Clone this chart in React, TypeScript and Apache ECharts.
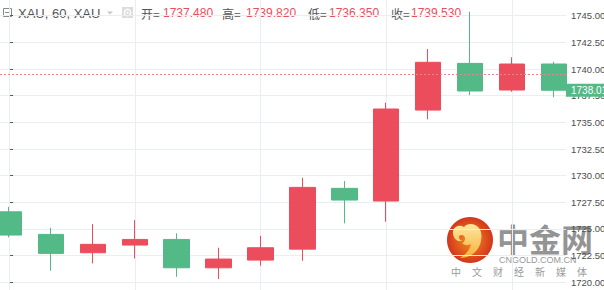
import React, { useEffect, useRef } from 'react';
import * as echarts from 'echarts';

// ---- data ----
const barIndex = [0, 1, 2, 3, 4, 5, 6, 7, 8, 9, 10, 11, 12, 13];
const opens = [1726.61, 1724.49, 1722.77, 1723.49, 1724.02, 1721.36, 1722.08, 1723.11, 1728.81, 1727.62, 1736.15, 1740.53, 1738.03, 1740.47];
const closes = [1724.43, 1722.71, 1723.56, 1724.02, 1721.36, 1722.18, 1723.24, 1728.9, 1727.71, 1736.25, 1740.63, 1737.94, 1740.47, 1738.01];
const lows = [1724.21, 1721.08, 1721.77, 1722.24, 1720.52, 1720.3, 1721.55, 1722.02, 1725.53, 1725.68, 1735.28, 1737.56, 1737.87, 1737.35];
const highs = [1727.08, 1725.11, 1725.46, 1725.83, 1724.59, 1723.24, 1724.36, 1729.8, 1729.49, 1736.84, 1741.88, 1745.38, 1741.1, 1740.68];
const gridBars = [0, 3, 6, 9, 12];
const yMin = 1717.5;
const yMax = 1747.5;
const yStep = 2.5;
const lastClose = 1739.53;
const priceTag = 1738.01;
const symbolTitle = 'XAU, 60, XAU';
const ohlcLabels = ['开=', '高=', '低=', '收='];
const ohlcValues = ['1737.480', '1739.820', '1736.350', '1739.530'];
const brandName = '中金网';
const brandUrl = 'CNGOLD.COM.CN';
const brandSlogan = ['中', '文', '财', '经', '新', '媒', '体'];

const UP = '#ec4d5c';
const DOWN = '#53b987';
const GRID = '#e8eef4';
const FONT = '"Liberation Sans", Arial, "Noto Sans CJK SC", sans-serif';
const CJK = '"Noto Sans CJK SC", "Liberation Sans", sans-serif';

const swirlD =
  'M 6 17 C 5 10 12 7 17 10 C 20 6 28 6 32 11 C 36 16 35 27 30 33 C 26 38 20 41 13 41 C 19 37 23 33 24 27 C 21 29 17 28 15 26 C 18 25 19 21 17 19 C 15 17 12 18 12 20 C 12 23 15 24 16 23 C 12 26 7 23 6 17 Z';
let registered = false;
function ensureShapes() {
  if (registered) return;
  echarts.graphic.registerShape('swirl', echarts.graphic.extendPath(swirlD, {}) as any);
  registered = true;
}

const tx = (x: number, y: number, text: string, fill: string, font: string, extra: any = {}) => ({
  type: 'text', x, y, ...extra,
  style: { text, fill, font, textAlign: 'left', textVerticalAlign: 'middle', align: 'left', verticalAlign: 'middle', ...(extra.style || {}) },
});

export default function App() {
  const ref = useRef<HTMLDivElement>(null);
  useEffect(() => {
    if (!ref.current) return;
    ensureShapes();
    const chart = echarts.init(ref.current, undefined, { renderer: 'svg' });

    const candleData = barIndex.map((x, i) => [x, opens[i], closes[i], lows[i], highs[i]]);

    const header: any[] = [
      { type: 'rect', shape: { x: 3.5, y: 8.5, width: 8, height: 8 }, style: { fill: 'none', stroke: '#888', lineWidth: 1 } },
      { type: 'line', shape: { x1: 5, y1: 12.5, x2: 10, y2: 12.5 }, style: { stroke: '#888', lineWidth: 1 } },
      tx(18, 13, symbolTitle, '#555', `13px ${FONT}`),
      { type: 'polygon', shape: { points: [[107, 11.5], [113, 11.5], [110, 14.5]] }, style: { fill: '#c8c8c8' } },
      { type: 'rect', shape: { x: 122, y: 7, width: 11, height: 11 }, style: { fill: '#dcdcdc' } },
      { type: 'circle', shape: { cx: 127.5, cy: 12.5, r: 3.2 }, style: { fill: 'none', stroke: '#fff', lineWidth: 1.3 } },
      { type: 'circle', shape: { cx: 127.5, cy: 12.5, r: 1.2 }, style: { fill: '#fff' } },
    ];
    const labelX = [141, 222, 308, 391];
    const valueX = [163, 246, 329, 411];
    ohlcLabels.forEach((l, i) => {
      header.push(tx(labelX[i], 13, l, '#555', `12px ${CJK}`));
      header.push(tx(valueX[i], 13, ohlcValues[i], UP, `12px ${FONT}`));
    });

    const watermark: any[] = [
      {
        type: 'circle', shape: { cx: 470, cy: 240, r: 23 },
        style: {
          fill: { type: 'radial', x: 0.5, y: 0.5, r: 0.5, colorStops: [{ offset: 0, color: '#f3901f' }, { offset: 1, color: '#d3351c' }] },
        },
      },
      {
        type: 'swirl', x: 447, y: 217, scaleX: 1, scaleY: 1,
        style: {
          fill: { type: 'linear', x: 0, y: 0, x2: 0, y2: 1, colorStops: [{ offset: 0, color: '#fde7a0' }, { offset: 1, color: '#f6b13a' }] },
        },
      },
      tx(497, 238, brandName, '#8a8a8a', `bold 32px ${CJK}`, { style: { opacity: 0.92 } }),
      tx(499, 259.5, brandUrl, '#999', `9px ${FONT}`),
    ];
    brandSlogan.forEach((c, i) => {
      watermark.push(tx(451 + i * 21, 271, c, '#9a9a9a', `10px ${CJK}`));
    });

    const option: any = {
      animation: false,
      backgroundColor: '#fff',
      grid: { left: 0, right: 38, top: -10.95, bottom: -18.95, containLabel: false, outerBoundsMode: 'none' },
      xAxis: {
        type: 'value',
        min: -0.217,
        max: 13.291,
        axisLine: { show: false },
        axisTick: { show: false },
        axisLabel: { show: false },
        splitLine: { show: false },
      },
      yAxis: {
        type: 'value',
        position: 'right',
        min: yMin,
        max: yMax,
        interval: yStep,
        axisLine: { show: true, lineStyle: { color: '#5a5a5a', width: 1 } },
        axisTick: { show: true, length: 4, lineStyle: { color: '#5a5a5a' } },
        axisLabel: { color: '#4d4d4d', fontSize: 9.5, fontFamily: FONT, margin: 5, formatter: (v: number) => v.toFixed(2) },
        splitLine: { show: true, lineStyle: { color: GRID, width: 1 } },
      },
      series: [
        {
          type: 'line',
          data: [],
          z: 1,
          silent: true,
          markLine: {
            z: 1,
            silent: true,
            symbol: ['none', 'none'],
            label: { show: false },
            lineStyle: { color: GRID, type: 'solid', width: 1 },
            data: gridBars.map((x) => ({ xAxis: x })),
          },
        },
        {
          type: 'candlestick',
          z: 3,
          barWidth: 26,
          encode: { x: 0, y: [1, 2, 3, 4] },
          data: candleData,
          itemStyle: { color: UP, color0: DOWN, borderColor: UP, borderColor0: DOWN, borderWidth: 1 },
          markLine: {
            z: 6,
            silent: true,
            symbol: ['none', 'none'],
            data: [
              { yAxis: lastClose, lineStyle: { color: '#f0808c', type: [2, 2], width: 1 }, label: { show: false } },
              {
                yAxis: priceTag,
                lineStyle: { color: 'rgba(0,0,0,0)', width: 1 },
                label: {
                  show: true, position: 'end', distance: 0,
                  formatter: priceTag.toFixed(2),
                  backgroundColor: DOWN, color: '#fff', fontSize: 10, fontFamily: FONT,
                  padding: [2, 6, 1, 5],
                },
              },
            ],
          },
        },
      ],
      graphic: [...header, ...watermark],
    };
    chart.setOption(option);
    return () => chart.dispose();
  }, []);
  return <div ref={ref} style={{ position: 'fixed', left: 0, top: 0, width: 604, height: 290 }} />;
}
